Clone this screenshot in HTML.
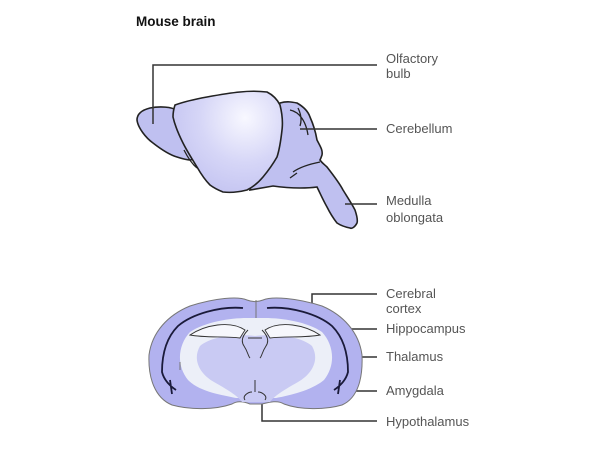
<!DOCTYPE html>
<html><head><meta charset="utf-8"><style>
html,body{margin:0;padding:0;background:#fff;}
svg{display:block;}
text{font-family:"Liberation Sans",sans-serif;}
</style></head><body>
<svg width="600" height="450" viewBox="0 0 600 450">
<defs>
<radialGradient id="g1" cx="245" cy="118" r="100" gradientUnits="userSpaceOnUse">
<stop offset="0" stop-color="#f8f8ff"/><stop offset="0.45" stop-color="#d6d6f7"/><stop offset="1" stop-color="#babaee"/>
</radialGradient>
</defs>
<text x="136" y="26" font-size="13.5" font-weight="bold" fill="#111">Mouse brain</text>

<!-- hindbrain + medulla -->
<path d="M280,103 C287,101 292,102 297,103 C304,107 308,111 310,117 C314,126 316,134 317,140 C320,146 323,150 322,155 C321,158 320,160 320,160 C322,163 325,165 327,167 C334,176 340,184 343,190 C348,198 352,204 355,210 C357,216 358,220 357,223 C355,227 352,229 350,228 C345,227 340,225 337,223 C333,218 330,213 327,207 C323,200 320,193 317,187 C310,188 305,188 300,188 C290,188 280,187 273,186 L250,190 L260,150 Z" fill="#bfc0f0" stroke="#222" stroke-width="1.6"/>
<!-- olfactory bulb -->
<path d="M176,110 C172,107 160,106 150,108 C142,110 137,114 137,120 C138,128 146,138 153,143 C162,150 170,155 177,157 C183,159 187,160 191,160 L200,150 L185,110 Z" fill="#bfc0f0" stroke="#222" stroke-width="1.6"/>
<!-- cerebrum -->
<path d="M175,105 C186,101 196,99 207,97 C218,95 229,93 240,92 C249,91 258,91 267,92 C273,95 277,99 280,105 C282,113 283,122 282,130 C281,139 280,148 277,157 C273,164 268,171 263,177 C258,183 253,187 247,190 C239,192 231,193 223,192 C218,190 214,188 210,185 C205,180 201,174 197,167 C192,159 187,151 183,143 C179,135 175,126 173,117 C173,112 174,108 175,105 Z" fill="url(#g1)" stroke="#222" stroke-width="1.6"/>
<path d="M290,110 C300,112 306,122 308,135 M298,108 C301,114 302,120 300,126 M293,172 C300,167 310,164 320,162 M290,178 L297,173 M184,150 C188,158 192,164 197,168" fill="none" stroke="#222" stroke-width="1.3"/>

<!-- leaders -->
<g stroke="#333" stroke-width="1.5" fill="none">
<path d="M153,124 V65 H377"/>
<path d="M300,129 H377"/>
<path d="M345,204 H377"/>
<path d="M312,312 V294 H377"/>
<path d="M285,329 H377"/>
<path d="M285,357 H377"/>
<path d="M318,378 V391 H377"/>
<path d="M262,390 V421 H377"/>
</g>

<!-- coronal -->
<path d="M247,300 C238,296 215,298 190,306 C168,315 152,332 149,355 C148,378 155,398 172,405 C190,410 215,410 232,404 C238,400 245,402 250,404 L262,404 C270,402 278,400 284,404 C300,410 325,410 342,405 C358,398 363,378 362,355 C359,332 343,315 322,306 C297,298 272,296 263,300 C258,302 252,302 247,300 Z" fill="#b2b2ef" stroke="#777" stroke-width="1"/>
<path d="M247,318 C230,318 205,322 190,332 C178,345 176,365 188,380 C200,392 222,395 236,398 L276,398 C292,395 312,390 324,380 C336,365 334,345 322,332 C308,322 282,318 265,318 Z" fill="#eceff8"/>
<path d="M255,336 C236,334 212,336 200,346 C192,360 200,374 214,382 C228,390 238,396 242,402 L270,402 C274,396 284,390 298,382 C312,374 320,360 312,346 C300,336 276,334 255,336 Z" fill="#c9caf3"/>
<path d="M256,300 V318 M180,362 V370" stroke="#777" stroke-width="1" fill="none"/>
<path d="M243,308 C220,306 192,314 178,326 C166,338 162,355 162,372 C164,380 170,386 176,390 M267,308 C290,306 318,314 332,326 C344,338 348,355 348,372 C346,380 340,386 334,390 M170,380 L172,394 M340,380 L338,394" fill="none" stroke="#1a1a3a" stroke-width="1.8"/>
<path d="M190,335 C205,325 230,320 245,330 L240,338 C225,336 205,338 190,335 Z M320,335 C305,325 280,320 265,330 L270,338 C285,336 305,338 320,335 Z" fill="#f6f7fc" stroke="#333" stroke-width="0.9"/>
<path d="M248,330 C244,334 240,340 244,346 C248,352 248,356 250,358 M262,330 C266,334 270,340 266,346 C262,352 262,356 260,358 M248,338 H262 M245,400 C242,396 248,392 252,392 M265,400 C268,396 262,392 258,392 M255,380 V392" fill="none" stroke="#333" stroke-width="1"/>

<g font-size="13" fill="#555">
<text x="386" y="63">Olfactory</text>
<text x="386" y="78">bulb</text>
<text x="386" y="133">Cerebellum</text>
<text x="386" y="205">Medulla</text>
<text x="386" y="222">oblongata</text>
<text x="386" y="298">Cerebral</text>
<text x="386" y="313">cortex</text>
<text x="386" y="333">Hippocampus</text>
<text x="386" y="361">Thalamus</text>
<text x="386" y="395">Amygdala</text>
<text x="386" y="426">Hypothalamus</text>
</g>
</svg>
</body></html>
